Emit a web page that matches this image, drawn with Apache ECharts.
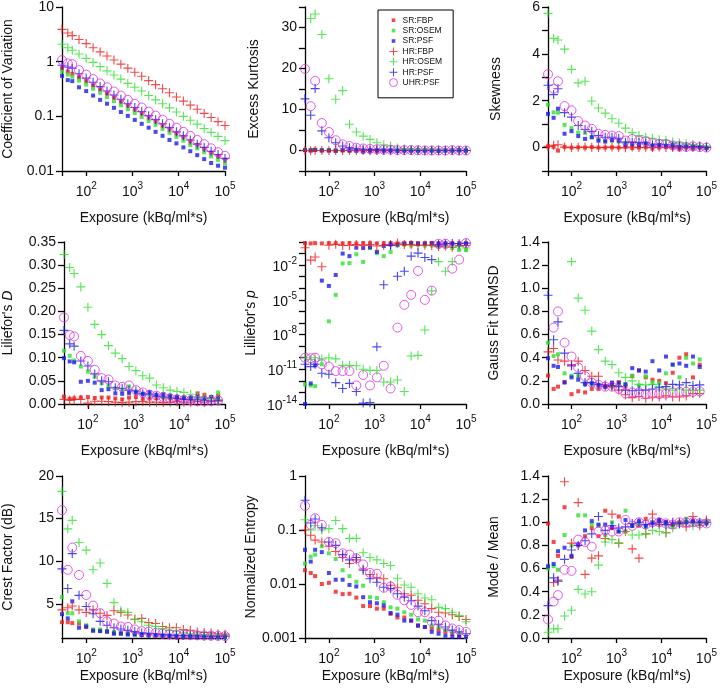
<!DOCTYPE html>
<html><head><meta charset="utf-8">
<script src="https://cdn.jsdelivr.net/npm/echarts@6.0.0/dist/echarts.min.js"></script>
<style>html,body{margin:0;padding:0;background:#fff}#c{width:720px;height:694px}</style>
</head><body><div id="c"></div>
<script>
// ---------- DATA ----------
const exposure = [30,40,50,70,100,141,200,282,398,562,794,1122,1585,2239,3162,4467,6310,8913,12589,17783,25119,35481,50119,70795,100000];
const seriesNames = ['SR:FBP','SR:OSEM','SR:PSF','HR:FBP','HR:OSEM','HR:PSF','UHR:PSF'];
const xTickLabels = ['10{s|2}','10{s|3}','10{s|4}','10{s|5}'];
const crestTicks = [5,10,15,20];

// Coefficient of Variation
const cvSRFBP  = [0.76,0.66,0.60,0.52,0.44,0.37,0.31,0.26,0.22,0.185,0.157,0.133,0.113,0.095,0.081,0.068,0.058,0.049,0.042,0.035,0.030,0.025,0.0215,0.0185,0.016];
const cvSROSEM = [0.66,0.58,0.53,0.45,0.38,0.32,0.27,0.225,0.19,0.16,0.135,0.115,0.097,0.082,0.07,0.059,0.05,0.042,0.036,0.03,0.026,0.022,0.0185,0.016,0.0138];
const cvSRPSF  = [0.55,0.46,0.44,0.34,0.29,0.24,0.20,0.17,0.143,0.12,0.102,0.086,0.073,0.062,0.052,0.044,0.037,0.032,0.027,0.023,0.0195,0.0165,0.014,0.0125,0.0115];
const cvHRFBP  = [3.9,3.35,3.0,2.55,2.14,1.80,1.51,1.27,1.07,0.90,0.76,0.64,0.54,0.45,0.38,0.32,0.27,0.226,0.19,0.16,0.135,0.113,0.095,0.08,0.068];
const cvHROSEM = [2.08,1.8,1.62,1.38,1.15,0.97,0.81,0.68,0.57,0.48,0.40,0.34,0.29,0.24,0.20,0.17,0.143,0.12,0.10,0.085,0.072,0.06,0.051,0.043,0.036];
const cvHRPSF  = [0.86,0.80,0.76,0.60,0.50,0.42,0.35,0.29,0.245,0.205,0.17,0.145,0.122,0.103,0.087,0.073,0.062,0.052,0.044,0.037,0.031,0.027,0.023,0.02,0.017];
const cvUHRPSF = [1.07,0.93,0.90,0.70,0.58,0.48,0.40,0.34,0.285,0.24,0.20,0.17,0.145,0.122,0.103,0.087,0.073,0.062,0.052,0.044,0.037,0.031,0.026,0.022,0.019];

// Excess Kurtosis
const kuSRFBP  = [0.1,0.05,0.1,0.05,0,0,0.05,0,0,0,0,0,0,0,0,0,0,0,0,0,0,0,0,0,0];
const kuSROSEM = [0.2,0.1,0.2,0.1,0.1,0.05,0.1,0.05,0,0,0,0.05,0,0,0,0,0,0,0,0,0,0,0,0,0];
const kuSRPSF  = [0.1,0,0.15,0,0,-0.1,0.05,0,0,-0.3,0,0,0,0,-0.1,0,0,0,0,0,-0.1,0,0,0.1,0];
const kuHRFBP  = [0,-0.05,0,0,-0.05,0,0,0,0,0,0,0,0,0,0,0,0,0,0,0,0,0,0,0,0];
const kuHROSEM = [null,32.2,33.3,28.3,17.5,12.5,14.6,6.4,4.5,3.5,2.7,1.9,1.4,1.1,0.6,0.4,0.3,0.2,0.15,0.1,0.1,0.05,0.05,0.02,0];
const kuHRPSF  = [12.6,8.6,15.1,4.8,3.1,1.9,1.1,0.7,0.4,0.3,0.2,0.2,0.1,0.1,0.05,0.05,0,0,0,0,0,0,0,0,0];
const kuUHRPSF = [19.9,10.8,17.0,6.7,4.5,2.5,1.5,1.1,0.7,0.5,0.4,0.3,0.2,0.2,0.1,0.1,0.1,0.05,0,0,0,0,0.1,0,0];

// Skewness
const skSRFBP  = [0.05,0.03,-0.13,0.03,0,0.01,0,0.02,0,0,0.01,0,0.02,-0.02,0,0.01,-0.05,0,0.02,0,-0.08,0,-0.03,0,-0.02];
const skSROSEM = [1.83,1.5,1.49,0.97,0.83,0.64,0.63,0.45,0.35,0.3,0.3,0.25,0.2,0.17,0.15,0.12,0.1,0.08,0.08,0.05,0.05,0.03,0.03,0.02,0.01];
const skSRPSF  = [1.44,1.27,1.66,0.59,0.7,0.49,0.37,0.44,0.29,0.26,0.32,0.3,0.1,0.15,0.1,0.18,0.08,0.1,0.05,0.12,0.02,0.05,0.03,0.02,-0.03];
const skHRFBP  = [0.05,0.1,0.12,0.02,0,0.01,0.02,0.01,0,0.01,0.02,0,-0.01,0.02,0,0.01,0,0.02,0,0,0.01,0,0.01,0.02,0];
const skHROSEM = [5.73,4.66,4.59,4.2,3.34,2.76,2.83,1.99,1.69,1.47,1.23,1.04,0.83,0.64,0.51,0.44,0.4,0.33,0.3,0.24,0.2,0.16,0.13,0.09,0.06];
const skHRPSF  = [2.66,2.26,2.51,1.49,1.3,0.94,0.77,0.69,0.51,0.44,0.44,0.4,0.23,0.23,0.22,0.2,0.11,0.15,0.12,0.06,0.06,0.03,0.04,0.04,0.01];
const skUHRPSF = [3.13,2.51,2.83,1.77,1.59,1.13,0.94,0.8,0.59,0.54,0.51,0.49,0.3,0.37,0.3,0.27,0.19,0.16,0.16,0.09,0.07,0.03,0.05,0.02,0];

// Lilliefors D
const ldSRFBP  = [0.016,0.011,0.012,0.014,0.015,0.013,0.014,0.014,0.012,0.010,0.014,0.015,0.011,0.012,0.013,0.014,0.012,0.010,0.014,0.012,0.023,0.020,0.015,0.018,null];
const ldSROSEM = [0.115,0.104,0.094,0.081,0.07,0.059,0.045,0.039,0.034,0.03,0.038,0.027,0.022,0.02,0.018,0.016,0.015,0.014,0.013,0.012,0.013,0.012,0.014,0.025,null];
const ldSRPSF  = [0.099,0.092,0.09,0.048,0.05,0.046,0.03,0.032,0.023,0.022,0.024,0.025,0.022,0.026,0.02,0.021,0.018,0.015,0.012,0.014,0.016,0.012,0.015,0.011,null];
const ldHRFBP  = [0.010,0.008,0.010,0.010,0.002,0.006,0.006,0.005,0.004,0.003,0.004,0.005,0.005,0.004,0.004,0.003,0.004,0.005,0.004,0.004,0.005,0.004,0.005,0.006,null];
const ldHROSEM = [0.323,0.295,0.282,0.253,0.209,0.172,0.15,0.126,0.11,0.098,0.081,0.072,0.061,0.056,0.041,0.035,0.03,0.027,0.025,0.021,0.016,0.014,0.012,0.009,null];
const ldHRPSF  = [0.159,0.13,0.125,0.093,0.082,0.065,0.05,0.048,0.035,0.034,0.03,0.028,0.022,0.02,0.017,0.015,0.013,0.012,0.01,0.009,0.009,0.008,0.007,0.008,null];
const ldUHRPSF = [0.187,0.149,0.146,0.104,0.093,0.074,0.056,0.053,0.04,0.037,0.04,0.03,0.025,0.02,0.018,0.015,0.012,0.01,0.009,0.008,0.006,0.006,0.007,0.008,null];

// Lilliefors p
const lpSRFBP  = [0.8,0.75,0.8,0.75,0.8,0.8,0.75,0.8,0.75,0.8,0.8,0.75,0.8,0.8,0.75,0.8,0.8,0.8,0.75,0.8,0.8,0.75,0.8,0.8,0.8];
const lpSROSEM = [5e-13,4e-13,3.5e-13,2.7e-11,1.4e-7,2.7e-5,0.014,0.015,0.087,0.019,0.3,0.11,0.06,0.14,0.5,0.6,0.5,0.6,0.5,0.5,0.4,0.4,0.3,0.2,0.2];
const lpSRPSF  = [1e-14,6e-13,2.2e-11,4.6e-4,1.6e-4,1.4e-3,0.1,0.06,0.32,0.3,0.35,0.14,0.45,0.6,0.6,0.7,0.8,0.7,0.75,0.8,0.7,0.75,0.7,0.6,0.7];
const lpHRFBP  = [0.32,0.027,0.05,0.0072,0.52,0.63,0.5,0.5,0.6,0.5,0.6,0.45,0.5,0.6,0.8,0.6,0.6,0.5,0.55,0.5,0.4,0.45,0.35,0.5,0.5];
const lpHROSEM = [1e-10,7e-11,1e-10,8e-11,1e-10,8e-11,2.2e-11,2.2e-11,2e-11,1e-11,8e-12,8e-12,8e-13,8e-13,1.2e-12,1.2e-13,1.4e-10,1.6e-10,2.5e-8,6e-5,0.02,3e-3,0.02,0.4,0.3];
const lpHRPSF  = [2.7e-11,1.7e-11,2.7e-11,4.6e-12,3.7e-12,7e-13,2.2e-13,6e-13,1.2e-13,1.2e-14,1.3e-14,8.7e-10,2e-4,0.5,1.1e-3,3e-3,0.06,0.11,0.046,0.03,0.6,0.7,0.75,0.7,0.8];
const lpUHRPSF = [1e-10,9e-11,1e-10,2.7e-11,1.7e-11,7e-12,7e-12,7e-12,4e-13,3.2e-12,4e-13,2e-12,2e-11,2.2e-13,4e-8,3.7e-6,2.7e-5,3.2e-3,1e-5,6.3e-5,0.7,0.7,5e-3,0.03,0.8];

// Gauss Fit NRMSD
const gfSRFBP  = [0.245,0.13,0.15,0.19,0.085,0.11,0.10,0.13,0.13,0.15,0.18,0.19,0.15,0.24,0.29,0.23,0.21,0.20,0.18,0.27,0.40,0.43,0.23,0.34,null];
const gfSROSEM = [0.53,0.415,0.43,0.265,0.245,0.24,0.18,0.17,0.165,0.15,0.15,0.17,0.17,0.245,0.16,0.24,0.185,0.18,0.265,0.34,0.23,0.40,0.35,0.385,null];
const gfSRPSF  = [0.395,0.33,0.32,0.185,0.23,0.21,0.17,0.18,0.165,0.15,0.185,0.18,0.17,0.31,0.29,0.28,0.37,0.29,0.41,0.34,0.35,0.33,0.41,0.32,null];
const gfHRFBP  = [0.45,0.48,0.38,0.37,0.34,0.37,0.29,0.24,0.24,0.165,0.15,0.12,0.08,0.055,0.065,0.05,0.06,0.06,0.07,0.06,0.06,0.07,0.09,0.09,null];
const gfHROSEM = [null,null,null,null,1.23,0.915,0.81,0.63,0.47,0.37,0.34,0.27,0.23,0.20,0.17,0.165,0.17,0.15,0.13,0.12,0.13,0.12,0.12,0.12,null];
const gfHRPSF  = [0.94,0.555,0.71,0.44,0.33,0.265,0.185,0.185,0.17,0.155,0.16,0.15,0.12,0.115,0.12,0.12,0.13,0.14,0.15,0.17,0.165,0.185,0.16,0.165,null];
const gfUHRPSF = [null,0.66,0.80,0.53,0.41,0.315,0.24,0.185,0.165,0.15,0.15,0.13,0.09,0.10,0.10,0.085,0.09,0.085,0.09,0.10,0.105,0.105,0.105,0.11,null];

// Crest Factor (dB)
const cfSRFBP  = [2.85,2.85,2.75,2.7,2.3,1.9,1.85,1.75,1.6,1.55,1.5,1.45,1.4,1.35,1.3,1.3,1.25,1.25,1.2,1.2,1.2,1.15,1.15,1.15,1.15];
const cfSROSEM = [5.8,3.9,3.9,2.95,2.5,2.0,2.0,1.8,1.7,1.6,1.55,1.5,1.45,1.4,1.35,1.3,1.3,1.25,1.25,1.2,1.2,1.2,1.15,1.15,1.15];
const cfSRPSF  = [3.8,3.3,5.3,2.2,2.35,1.85,1.8,1.75,1.5,1.5,1.4,1.4,1.35,1.3,1.3,1.25,1.25,1.2,1.2,1.2,1.15,1.15,1.15,1.15,1.15];
const cfHRFBP  = [4.3,4.55,4.75,4.3,4.0,4.3,3.9,3.65,4.2,4.0,3.7,3.2,3.3,2.8,2.7,2.35,2.2,2.2,2.0,1.9,1.7,1.65,1.6,1.5,1.45];
const cfHROSEM = [18.2,13.8,14.8,12.2,11.3,9.0,9.8,7.4,5.15,4.2,4.0,3.2,2.9,2.5,2.35,2.1,1.9,1.8,1.6,1.5,1.45,1.4,1.3,1.3,1.27];
const cfHRPSF  = [9.1,6.8,10.9,6.0,4.7,3.85,2.95,2.5,2.2,2.05,1.9,1.75,1.6,1.55,1.5,1.4,1.35,1.3,1.3,1.25,1.25,1.2,1.2,1.2,1.2];
const cfUHRPSF = [16.0,9.0,11.6,8.4,6.05,4.8,3.9,2.95,2.7,2.35,2.3,2.0,1.8,1.75,1.6,1.5,1.45,1.4,1.38,1.35,1.32,1.3,1.28,1.25,1.22];

// Normalized Entropy
const neSRFBP  = [0.018,0.016,0.014,0.01,0.0105,0.0072,0.0065,0.0066,0.0056,0.0039,0.0039,0.0035,0.0035,0.0028,0.0024,0.0024,0.0021,0.0017,0.0016,0.0015,0.0014,0.0013,0.0012,0.0011,0.00105];
const neSROSEM = [0.024,0.032,0.035,0.05,0.037,0.029,0.018,0.014,0.011,0.0093,0.0057,0.0055,0.0046,0.0037,0.0035,0.003,0.0027,0.0022,0.0021,0.0017,0.0016,0.0014,0.0013,0.0012,0.00105];
const neSRPSF  = [0.043,0.026,0.043,0.039,0.016,0.012,0.012,0.0096,0.009,0.0057,0.0046,0.0044,0.004,0.0029,0.0027,0.0021,0.0021,0.0017,0.0016,0.0013,0.0012,0.0011,0.00105,0.00105,0.00105];
const neHRFBP  = [0.1,0.08,0.065,0.06,0.05,0.04,0.031,0.024,0.028,0.019,0.015,0.013,0.0125,0.0095,0.0085,0.0066,0.0062,0.005,0.0043,0.0035,0.003,0.0029,0.0027,0.0025,0.0022];
const neHROSEM = [0.155,0.1,0.12,0.1,0.106,0.15,0.106,0.07,0.07,0.038,0.031,0.028,0.024,0.022,0.0128,0.0096,0.0087,0.0066,0.0055,0.0051,0.0037,0.0035,0.003,0.0026,0.002];
const neHRPSF  = [0.355,0.135,0.16,0.11,0.06,0.052,0.035,0.028,0.031,0.018,0.0125,0.0108,0.0087,0.0082,0.0066,0.0057,0.0049,0.0039,0.0032,0.0021,0.0018,0.0016,0.0014,0.0013,0.0012];
const neUHRPSF = [0.28,0.125,0.165,0.125,0.06,0.057,0.037,0.035,0.03,0.023,0.016,0.0155,0.0085,0.009,0.0063,0.005,0.0041,0.003,0.003,0.002,0.0021,0.0017,0.0015,0.0014,0.0013];

// Mode / Mean
const mmSRFBP  = [0.99,0.83,0.71,1.13,0.70,0.8,0.88,0.95,0.88,1.1,0.95,1.05,0.92,0.97,0.97,1.03,1.0,1.01,1.0,0.98,1.0,1.0,1.0,0.99,1.0];
const mmSROSEM = [0.6,0.62,0.59,0.89,0.8,1.06,1.06,0.98,0.97,0.89,1.0,0.92,1.1,0.97,0.98,0.96,1.0,0.99,0.98,0.97,1.0,1.03,1.0,0.99,1.0];
const mmSRPSF  = [0.62,0.64,0.75,0.78,0.71,0.81,0.93,1.01,0.98,0.98,0.96,0.92,1.02,0.97,1.01,0.97,0.99,1.02,1.0,0.98,0.99,1.0,1.01,1.0,0.99];
const mmHRFBP  = [null,0.48,0.50,1.35,0.82,1.17,0.55,0.69,0.71,0.86,1.07,0.82,0.92,0.77,0.69,0.9,1.07,0.98,0.91,0.98,1.0,0.96,1.05,0.97,1.02];
const mmHROSEM = [0.05,0.08,0.08,0.19,0.24,0.42,0.38,0.40,0.63,0.83,0.85,0.82,0.92,0.89,0.89,0.9,0.93,0.92,0.91,0.95,0.98,1.0,0.97,0.99,1.0];
const mmHRPSF  = [0.28,0.52,0.49,0.68,0.76,0.8,0.84,0.9,1.05,0.93,0.97,0.95,0.96,0.99,1.0,0.98,0.99,1.0,0.98,1.0,0.99,1.0,1.0,1.0,1.0];
const mmUHRPSF = [0.16,0.315,0.37,0.59,0.58,0.85,0.83,0.79,0.92,0.93,0.92,0.92,1.02,0.97,1.0,0.98,1.0,1.0,0.99,0.98,1.0,1.0,1.0,0.99,0.99];

// ---------- STYLE / LAYOUT ----------
const FONT = '"Liberation Sans", Arial, Helvetica, sans-serif';
const TXT = '#111';
const RED = '#f01c1c', GREEN = '#2ee02e', BLUE = '#1c1cee', MAG = '#e030e0';
const seriesColors = [RED, GREEN, BLUE, RED, GREEN, BLUE, MAG];
const PLUS = 'path://M7,0H9V7H16V9H9V16H7V9H0V7H7Z';
const SQ_ICON = 'path://M0,0L0,0M2.2,2.2H5.8V5.8H2.2ZM8,8L8,8';
const styles = [
  {symbol:'rect', symbolSize:4, itemStyle:{color:RED}},
  {symbol:'rect', symbolSize:4, itemStyle:{color:GREEN}},
  {symbol:'rect', symbolSize:4, itemStyle:{color:BLUE}},
  {symbol:PLUS, symbolSize:9, itemStyle:{color:RED}},
  {symbol:PLUS, symbolSize:9, itemStyle:{color:GREEN}},
  {symbol:PLUS, symbolSize:9, itemStyle:{color:BLUE}},
  {symbol:'circle', symbolSize:9, itemStyle:{color:'rgba(255,255,255,0)', borderColor:MAG, borderWidth:1}}
];
const colLeft = [62, 305, 548], colWidth = [163, 161, 161];
const rowTop = [7, 242, 476], rowHeight = [164, 162, 162];
const xNameGap = [40, 40, 31];

const supRich = {
  b: {fontSize:14, fontFamily:FONT, color:TXT, lineHeight:18, verticalAlign:'bottom'},
  s: {fontSize:10, fontFamily:FONT, color:TXT, lineHeight:10, verticalAlign:'top'}
};
function isPow10(v){ const e = Math.log10(v); return Math.abs(e - Math.round(e)) < 1e-6; }
function xFmt(v){
  if (!isPow10(v)) return '';
  const e = Math.round(Math.log10(v));
  const idx = e - 2;
  return (idx >= 0 && idx < xTickLabels.length) ? '{b|10}' + xTickLabels[idx].slice(2) : '';
}

const panels = [
  {name:'Coefficient of Variation', gap:47, data:[cvSRFBP,cvSROSEM,cvSRPSF,cvHRFBP,cvHROSEM,cvHRPSF,cvUHRPSF],
   y:{type:'log', min:0.01, max:10, interval:1, axisLabel:{formatter:v=>String(+(+v).toPrecision(1))}}},
  {name:'Excess Kurtosis', gap:44, data:[kuSRFBP,kuSROSEM,kuSRPSF,kuHRFBP,kuHROSEM,kuHRPSF,kuUHRPSF],
   y:{type:'value', min:-5, max:35, interval:5, axisLabel:{formatter:v=>(v>=0 && v%10===0)?String(v):''}}},
  {name:'Skewness', gap:45, data:[skSRFBP,skSROSEM,skSRPSF,skHRFBP,skHROSEM,skHRPSF,skUHRPSF],
   y:{type:'value', min:-1, max:6, interval:1, axisLabel:{formatter:v=>(v>=0 && v%2===0)?String(v):''}}},
  {name:"Liliefor's {i|D}", gap:49, data:[ldSRFBP,ldSROSEM,ldSRPSF,ldHRFBP,ldHROSEM,ldHRPSF,ldUHRPSF],
   y:{type:'value', min:0, max:0.35, interval:0.05, axisLabel:{formatter:v=>(+v).toFixed(2)}}},
  {name:"Lilliefor's {i|p}", gap:47, data:[lpSRFBP,lpSROSEM,lpSRPSF,lpHRFBP,lpHROSEM,lpHRPSF,lpUHRPSF],
   y:{type:'log', min:1e-14, max:1, interval:1, axisLabel:{rich:supRich, formatter:v=>{
     const e = Math.round(Math.log10(v));
     return (e <= -2 && (e + 2) % 3 === 0) ? '{b|10}{s|' + e + '}' : '';
   }}}},
  {name:'Gauss Fit NRMSD', gap:47, data:[gfSRFBP,gfSROSEM,gfSRPSF,gfHRFBP,gfHROSEM,gfHRPSF,gfUHRPSF],
   y:{type:'value', min:0, max:1.4, interval:0.2, axisLabel:{formatter:v=>(+v).toFixed(1)}}},
  {name:'Crest Factor (dB)', gap:47, data:[cfSRFBP,cfSROSEM,cfSRPSF,cfHRFBP,cfHROSEM,cfHRPSF,cfUHRPSF],
   tickValues:crestTicks,
   y:{type:'value', min:1, max:20, interval:1, axisLabel:{formatter:v=>(v%5===0)?String(v):''}}},
  {name:'Normalized Entropy', gap:46, data:[neSRFBP,neSROSEM,neSRPSF,neHRFBP,neHROSEM,neHRPSF,neUHRPSF],
   y:{type:'log', min:0.001, max:1, interval:1, axisLabel:{formatter:v=>String(+(+v).toPrecision(1))}}},
  {name:'Mode / Mean', gap:47, data:[mmSRFBP,mmSROSEM,mmSRPSF,mmHRFBP,mmHROSEM,mmHRPSF,mmUHRPSF],
   y:{type:'value', min:0, max:1.4, interval:0.2, axisLabel:{formatter:v=>(+v).toFixed(1)}}}
];

const grids = [], xAxes = [], yAxes = [], series = [];
panels.forEach((p, i) => {
  const r = Math.floor(i / 3), c = i % 3;
  grids.push({left:colLeft[c], top:rowTop[r], width:colWidth[c], height:rowHeight[r]});
  xAxes.push({
    gridIndex:i, type:'log', logBase:10, min:30, max:100000,
    name:'Exposure (kBq/ml*s)', nameLocation:'middle', nameGap:xNameGap[r],
    nameTextStyle:{fontSize:14, fontFamily:FONT, color:TXT},
    axisLine:{onZero:false, lineStyle:{color:'#000', width:1.3}},
    axisTick:{length:5, lineStyle:{color:'#000', width:1.3}},
    axisLabel:{margin:10, rich:supRich, formatter:xFmt, showMinLabel:true, hideOverlap:false},
    splitLine:{show:false}, minorTick:{show:false}
  });
  const y = p.y;
  const tick = {show:true, length:6, lineStyle:{color:'#000', width:1.3}};
  if (p.tickValues) tick.customValues = p.tickValues;
  yAxes.push(Object.assign({}, y, {
    gridIndex:i,
    name:p.name, nameLocation:'middle', nameGap:p.gap, nameRotate:90,
    nameTextStyle:{fontSize:14, fontFamily:FONT, color:TXT,
      rich:{i:{fontSize:14, fontFamily:FONT, color:TXT, fontStyle:'italic'}}},
    axisLine:{show:true, onZero:false, lineStyle:{color:'#000', width:1.3}},
    axisTick:tick,
    axisLabel:Object.assign({margin:8, fontSize:14, fontFamily:FONT, color:TXT, showMinLabel:true, showMaxLabel:true, hideOverlap:false}, y.axisLabel),
    splitLine:{show:false}
  }));
  p.data.forEach((vals, k) => {
    const pts = [];
    vals.forEach((v, j) => { if (v !== null) pts.push([exposure[j], v]); });
    series.push(Object.assign({
      type:'scatter', name:seriesNames[k], xAxisIndex:i, yAxisIndex:i,
      data:pts, clip:true, emphasis:{disabled:true}, silent:true, z:2 + k
    }, styles[k]));
  });
});

const chart = echarts.init(document.getElementById('c'), null, {renderer:'canvas'});
chart.setOption({
  animation:false,
  backgroundColor:'#fff',
  textStyle:{fontFamily:FONT, color:TXT},
  grid:grids, xAxis:xAxes, yAxis:yAxes, series:series,
  legend:{
    left:378, top:10, orient:'vertical',
    padding:[5,11,10,11], itemWidth:8, itemHeight:8, itemGap:0,
    borderColor:'#000', borderWidth:1, backgroundColor:'#fff',
    selectedMode:false,
    textStyle:{fontSize:8.5, fontFamily:FONT, color:TXT, lineHeight:10.4},
    data:seriesNames.map((n, k) => {
      if (k < 3) return {name:n, icon:SQ_ICON, itemStyle:{color:seriesColors[k], borderWidth:0}};
      if (k < 6) return {name:n, icon:PLUS, itemStyle:{color:seriesColors[k], borderWidth:0}};
      return {name:n, icon:'circle', itemStyle:{borderWidth:1, color:'rgba(255,255,255,0)', borderColor:MAG}};
    })
  }
});
</script></body></html>
